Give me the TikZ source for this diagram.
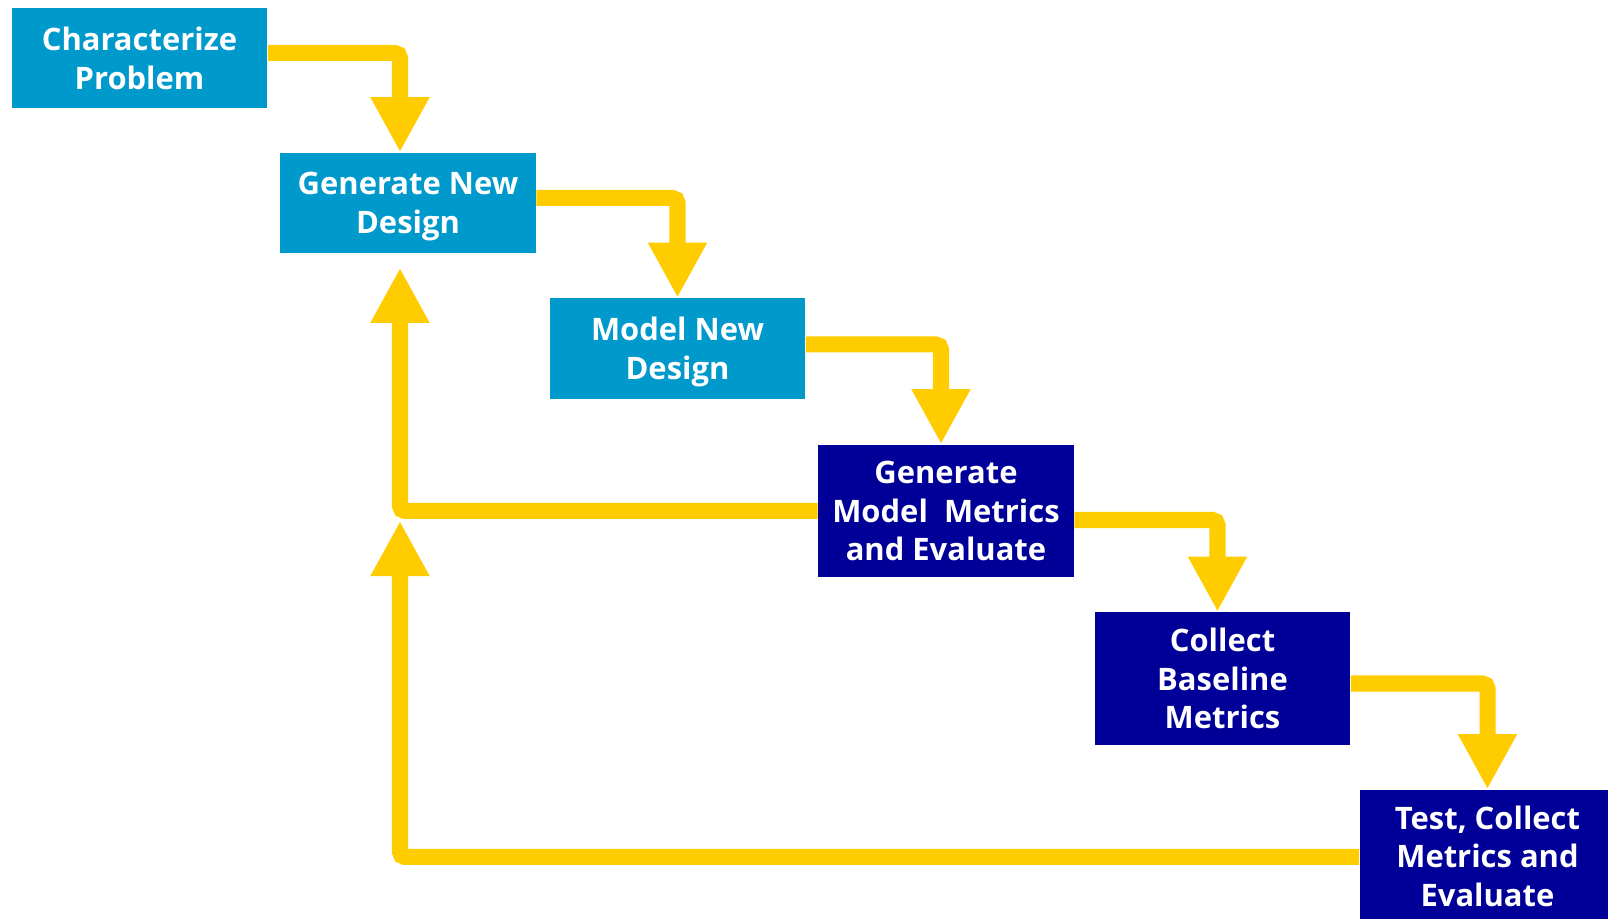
\documentclass[tikz,border=0pt]{standalone}
\usepackage{fontspec}
\setmainfont{Open Sans}
\usetikzlibrary{arrows.meta}

\definecolor{stepblue}{HTML}{0099CC}
\definecolor{deepblue}{HTML}{000099}
\definecolor{flowyellow}{HTML}{FFCC00}

\begin{document}
\begin{tikzpicture}[x=0.01cm,y=-0.01cm,
    box/.style={fill=stepblue,text=white,minimum width=2.55cm,minimum height=1cm,
      align=center,inner sep=0pt,text depth=0pt,
      font=\fontsize{8.8pt}{11pt}\selectfont\bfseries},
    darkbox/.style={box,fill=deepblue,minimum height=1.32cm},
    flow/.style={draw=flowyellow,line width=0.16cm,rounded corners=0.05cm,
      -{Triangle[width=0.55cm,length=0.55cm]}}]
    \clip (0,0) rectangle (1608,919);
    % steps down the staircase
    \node[box] (char) at (139.5,58) {Characterize\\Problem};
    \node[box] (gen) at (408,203) {Generate New\\Design};
    \node[box] (model) at (677.5,348.5) {Model New\\Design};
    \node[darkbox] (metrics) at (946,511) {Generate\\Model~~Metrics\\and Evaluate};
    \node[darkbox] (base) at (1222.5,678.5) {Collect\\Baseline\\Metrics};
    \node[darkbox] (test) at (1487.5,856) {Test, Collect\\Metrics and\\Evaluate};

    \draw[flow] ([yshift=0.05cm]char.east) -| ([xshift=-0.08cm]gen.north);
    \draw[flow] ([yshift=0.05cm]gen.east) -| (model.north);
    \draw[flow] ([yshift=0.04cm]model.east) -| ([xshift=-0.05cm]metrics.north);
    \draw[flow] ([yshift=-0.09cm]metrics.east) -| ([xshift=-0.05cm]base.north);
    \draw[flow] ([yshift=-0.05cm]base.east) -| (test.north);

    % loops back to the design step
    \coordinate (fork) at ([xshift=-0.08cm]gen.south |- metrics.west);
    \draw[flow] (metrics.west) -| ([xshift=-0.08cm,yshift=-0.14cm]gen.south);
    \draw[flow] ([yshift=-0.01cm]test.west) -| ([yshift=-0.1cm]fork);
\end{tikzpicture}
\end{document}
